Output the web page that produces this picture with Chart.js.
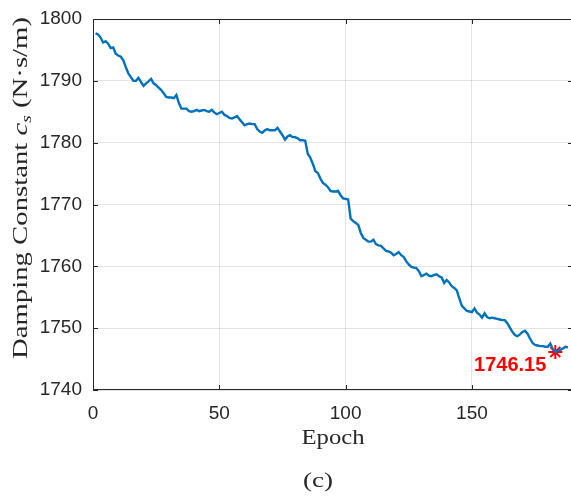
<!DOCTYPE html>
<html>
<head>
<meta charset="utf-8">
<script src="https://cdn.jsdelivr.net/npm/chart.js@4/dist/chart.umd.min.js"></script>
<style>
  html, body { margin: 0; padding: 0; background: #fff; overflow: hidden; }
  canvas { display: block; }
</style>
</head>
<body>
<canvas id="myChart" width="574" height="497"></canvas>
<script>
// damping constant estimate after each training epoch (epoch 1..188)
const epochValues = [
  1797.7, 1797.5, 1797.0, 1796.2, 1796.4, 1796.0, 1795.3, 1795.4, 1794.4, 1794.1,
  1793.9, 1793.3, 1792.2, 1791.2, 1790.6, 1790.0, 1790.0, 1790.5, 1789.8, 1789.2,
  1789.6, 1789.9, 1790.3, 1789.6, 1789.3, 1788.9, 1788.5, 1788.0, 1787.4, 1787.3,
  1787.3, 1787.2, 1787.7, 1786.4, 1785.5, 1785.5, 1785.5, 1785.1, 1785.0, 1785.1,
  1785.3, 1785.1, 1785.2, 1785.3, 1785.1, 1785.0, 1785.3, 1784.9, 1784.6, 1784.8,
  1785.0, 1784.5, 1784.3, 1784.0, 1783.9, 1784.1, 1784.3, 1783.8, 1783.3, 1782.8,
  1783.0, 1783.1, 1783.0, 1783.0, 1782.2, 1781.8, 1781.6, 1782.0, 1782.2, 1782.0,
  1782.0, 1782.0, 1782.4, 1781.8, 1781.2, 1780.5, 1781.0, 1781.2, 1780.9, 1780.9,
  1780.7, 1780.4, 1780.4, 1780.3, 1778.2, 1777.6, 1776.6, 1775.4, 1775.1, 1774.2,
  1773.5, 1773.2, 1772.8, 1772.2, 1772.1, 1772.1, 1772.2, 1771.5, 1771.0, 1770.9,
  1770.8, 1767.7, 1767.3, 1767.0, 1766.7, 1765.4, 1764.6, 1764.3, 1764.0, 1764.0,
  1764.3, 1763.6, 1763.4, 1763.3, 1762.9, 1762.5, 1762.4, 1762.2, 1761.8, 1762.0,
  1762.3, 1761.8, 1761.5, 1760.8, 1760.3, 1759.9, 1759.8, 1759.7, 1759.2, 1758.4,
  1758.6, 1758.8, 1758.5, 1758.4, 1758.6, 1758.7, 1758.4, 1758.2, 1757.3, 1757.8,
  1757.4, 1756.8, 1756.5, 1756.1, 1754.8, 1753.6, 1753.2, 1752.8, 1752.7, 1752.6,
  1753.2, 1752.5, 1752.2, 1751.7, 1752.4, 1751.8, 1751.6, 1751.7, 1751.6, 1751.5,
  1751.4, 1751.3, 1751.3, 1750.8, 1750.1, 1749.4, 1748.9, 1748.7, 1749.0, 1749.4,
  1749.6, 1749.1, 1748.3, 1747.6, 1747.3, 1747.2, 1747.1, 1747.1, 1747.0, 1747.0,
  1747.5, 1746.6, 1746.15, 1746.4, 1746.5, 1746.7, 1747.0, 1746.9
];

const bestEpoch = 183;
const bestValue = 1746.15;

const xTickValues = [0, 50, 100, 150];
const yTickValues = [1740, 1750, 1760, 1770, 1780, 1790, 1800];

const axisColor = '#262626';
const gridColor = 'rgba(38,38,38,0.13)';
const sansFont = '"Liberation Sans", Arial, Helvetica, sans-serif';
const serifFont = '"Liberation Serif", "Times New Roman", serif';

// draw a run of text pieces stretched to a given length (latex-ish width)
function drawStretched(ctx, parts, length) {
  let total = 0;
  parts.forEach(p => { ctx.font = p.f; p.w = ctx.measureText(p.t).width; total += p.w; });
  const sx = length / total;
  ctx.save();
  ctx.scale(sx, 1);
  ctx.textAlign = 'left';
  let cx = -total / 2;
  parts.forEach(p => { ctx.font = p.f; ctx.fillText(p.t, cx, p.dy || 0); cx += p.w; });
  ctx.restore();
}

// box around the axes with inward ticks, plus the latex-style labels
const framePlugin = {
  id: 'frame',
  afterDraw(chart) {
    const { ctx, chartArea: a, scales: { x, y } } = chart;
    const tl = 5;
    ctx.save();
    ctx.strokeStyle = axisColor;
    ctx.lineWidth = 1;
    ctx.beginPath();
    ctx.rect(a.left + 0.5, a.top + 0.5, a.right - a.left - 1, a.bottom - a.top - 1);
    xTickValues.forEach(v => {
      const px = Math.round(x.getPixelForValue(v)) + 0.5;
      ctx.moveTo(px, a.bottom); ctx.lineTo(px, a.bottom - tl);
      ctx.moveTo(px, a.top); ctx.lineTo(px, a.top + tl);
    });
    yTickValues.forEach(v => {
      const py = Math.round(y.getPixelForValue(v)) + 0.5;
      ctx.moveTo(a.left, py); ctx.lineTo(a.left + tl, py);
      ctx.moveTo(a.right, py); ctx.lineTo(a.right - tl, py);
    });
    ctx.stroke();

    ctx.fillStyle = axisColor;
    ctx.textBaseline = 'alphabetic';

    // x label and panel caption
    ctx.save();
    ctx.translate(333, 444);
    drawStretched(ctx, [{ t: 'Epoch', f: '22px ' + serifFont }], 63);
    ctx.restore();
    ctx.save();
    ctx.translate(318, 487);
    drawStretched(ctx, [{ t: '(c)', f: '22px ' + serifFont }], 30);
    ctx.restore();

    // y label with italic c_s
    ctx.save();
    ctx.translate(27, 188);
    ctx.rotate(-Math.PI / 2);
    drawStretched(ctx, [
      { t: 'Damping Constant ', f: '22px ' + serifFont },
      { t: 'c', f: 'italic 22px ' + serifFont },
      { t: 's', f: 'italic 15px ' + serifFont, dy: 4 },
      { t: ' (N\u00B7s/m)', f: '22px ' + serifFont }
    ], 342);
    ctx.restore();
    ctx.restore();

    // value label next to the minimum marker
    const pt = chart.getDatasetMeta(1).data[0];
    ctx.save();
    ctx.fillStyle = '#ff0000';
    ctx.font = 'bold 20px ' + sansFont;
    ctx.textAlign = 'right';
    ctx.textBaseline = 'alphabetic';
    ctx.fillText(bestValue.toFixed(2), pt.x - 9, pt.y + 19);
    ctx.restore();
  }
};

const ctx = document.getElementById('myChart').getContext('2d');
new Chart(ctx, {
  type: 'line',
  data: {
    datasets: [
      {
        data: epochValues.map((v, i) => ({ x: i + 1, y: v })),
        borderColor: '#0072BD',
        borderWidth: 2.4,
        pointRadius: 0,
        tension: 0
      },
      {
        type: 'scatter',
        data: [{ x: bestEpoch, y: bestValue }],
        pointStyle: 'star',
        pointRadius: 7,
        borderColor: '#ff0000',
        backgroundColor: '#ff0000',
        pointBorderWidth: 2
      }
    ]
  },
  options: {
    responsive: false,
    animation: false,
    layout: { autoPadding: false, padding: { top: 19, right: 1, left: 0, bottom: 0 } },
    plugins: {
      legend: { display: false },
      tooltip: { enabled: false }
    },
    scales: {
      x: {
        type: 'linear',
        min: 0,
        max: 190,
        afterFit: s => { s.height = 107; s.paddingLeft = 0; s.paddingRight = 0; },
        afterBuildTicks: s => { s.ticks = xTickValues.map(v => ({ value: v })); },
        grid: { color: gridColor, drawTicks: false },
        border: { display: false },
        ticks: {
          color: axisColor, padding: 12, maxRotation: 0,
          font: { family: sansFont, size: 19 },
          callback: v => String(v)
        }
      },
      y: {
        min: 1740,
        max: 1800,
        afterFit: s => { s.width = 93; s.paddingTop = 0; s.paddingBottom = 0; },
        afterBuildTicks: s => { s.ticks = yTickValues.map(v => ({ value: v })); },
        grid: { color: gridColor, drawTicks: false },
        border: { display: false },
        ticks: {
          color: axisColor, padding: 11,
          font: { family: sansFont, size: 19 },
          callback: v => String(v)
        }
      }
    }
  },
  plugins: [framePlugin]
});
</script>
</body>
</html>
